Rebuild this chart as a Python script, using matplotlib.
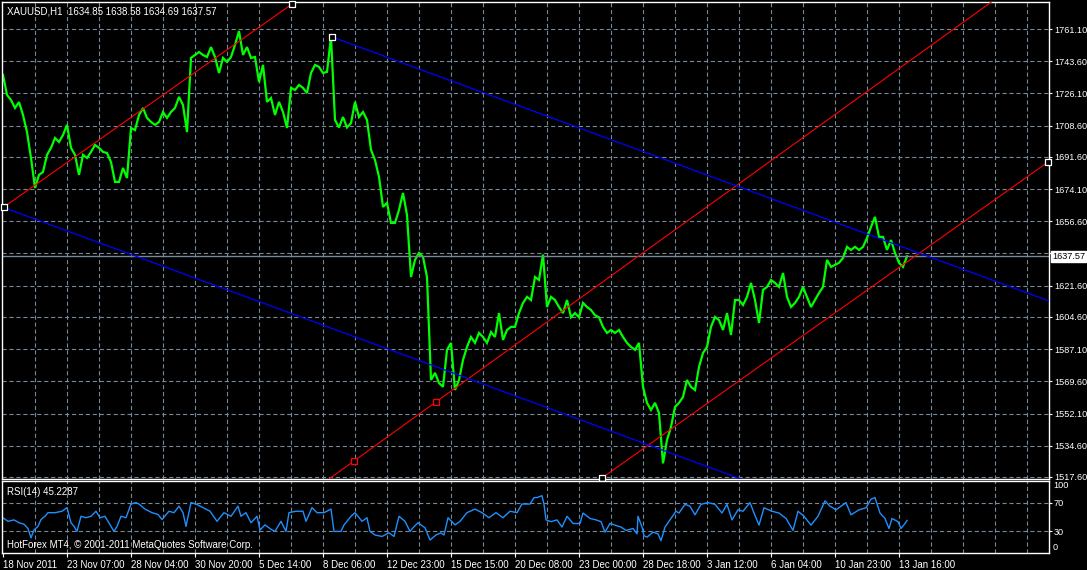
import numpy as np
import matplotlib
matplotlib.use("Agg")
import matplotlib.pyplot as plt
from matplotlib import font_manager

names = {f.name for f in font_manager.fontManager.ttflist}
FONT = "Liberation Sans Narrow" if "Liberation Sans Narrow" in names else "Liberation Sans"
plt.rcParams["font.family"] = [FONT, "DejaVu Sans"]
plt.rcParams["lines.scale_dashes"] = False

# ---- data --------------------------------------------------------------
# XAUUSD H1 closes, one value every 4 bars (18 Nov 2011 -> 13 Jan 2012)
BAR_STEP = 4
close = [
    1736.1, 1725.3, 1722.5, 1718.2, 1721.4, 1714.4, 1705.1, 1691.0, 1674.7, 1681.8,
    1683.4, 1692.7, 1696.5, 1701.9, 1699.7, 1703.5, 1709.0, 1696.5, 1692.7, 1681.8,
    1692.7, 1691.0, 1694.3, 1698.1, 1696.5, 1694.3, 1693.7, 1688.8, 1678.0, 1678.0,
    1685.6, 1680.1, 1707.3, 1706.2, 1714.4, 1718.2, 1712.8, 1710.6, 1709.0, 1710.6,
    1716.0, 1712.8, 1716.0, 1718.2, 1724.2, 1719.8, 1705.1, 1745.4, 1747.0, 1748.6,
    1747.0, 1745.9, 1751.3, 1745.9, 1737.2, 1745.4, 1743.2, 1745.9, 1752.4, 1760.0,
    1747.0, 1751.3, 1745.4, 1745.9, 1732.3, 1741.6, 1721.5, 1723.6, 1714.4, 1721.5,
    1716.0, 1707.3, 1729.1, 1728.0, 1730.7, 1729.1, 1726.3, 1737.2, 1741.6, 1740.5,
    1737.2, 1737.8, 1756.8, 1711.7, 1707.6, 1713.3, 1707.6, 1710.0, 1721.5, 1713.3,
    1716.0, 1711.7, 1695.4, 1689.9, 1680.7, 1664.4, 1666.6, 1655.7, 1655.7, 1662.8,
    1672.0, 1660.0, 1626.3, 1635.6, 1639.4, 1637.2, 1626.3, 1570.3, 1574.2, 1568.7,
    1566.6, 1586.7, 1590.5, 1564.9, 1570.3, 1581.2, 1588.3, 1593.7, 1590.5, 1595.9,
    1593.7, 1590.5, 1596.4, 1593.7, 1606.7, 1592.1, 1597.5, 1599.2, 1599.2, 1606.7,
    1612.2, 1615.5, 1613.8, 1626.3, 1624.7, 1638.5, 1610.0, 1615.5, 1613.8, 1610.0,
    1606.7, 1613.8, 1604.4, 1606.7, 1604.4, 1612.2, 1610.0, 1608.4, 1605.5, 1604.4,
    1599.2, 1595.9, 1597.5, 1595.9, 1597.5, 1593.7, 1590.5, 1588.3, 1586.7, 1590.5,
    1566.6, 1557.9, 1554.0, 1557.9, 1552.4, 1525.0, 1537.7, 1544.8, 1555.7, 1557.9,
    1561.1, 1570.3, 1566.6, 1564.9, 1577.4, 1585.0, 1588.3, 1599.2, 1604.6, 1602.9,
    1597.5, 1606.7, 1594.8, 1613.8, 1613.8, 1611.1, 1615.5, 1623.1, 1613.8, 1601.3,
    1619.3, 1620.9, 1624.7, 1623.1, 1620.9, 1628.5, 1615.5, 1610.0, 1612.2, 1615.5,
    1620.9, 1615.5, 1610.0, 1613.8, 1617.6, 1620.9, 1635.6, 1631.8, 1632.9, 1634.0,
    1636.7, 1642.7, 1641.0, 1642.7, 1641.0, 1642.7, 1647.5, 1653.5, 1659.0, 1648.1,
    1648.1, 1641.0, 1646.4, 1639.4, 1634.0, 1631.8, 1637.57,
]
last_price = 1637.57

# RSI(14): bar number and value
rsi_bars = [
    0, 5, 11, 16, 21, 25, 28, 31, 35, 38, 42, 45, 52, 59, 64, 68, 71, 74, 78, 83,
    88, 93, 97, 102, 107, 111, 114, 118, 123, 128, 133, 136, 142, 149, 155, 159, 166, 171, 176, 180,
    183, 188, 193, 200, 207, 214, 221, 228, 235, 238, 243, 248, 254, 257, 262, 269, 272, 278, 283, 286,
    293, 300, 303, 309, 314, 321, 328, 331, 338, 341, 348, 352, 359, 364, 367, 372, 379, 386, 391, 396,
    402, 407, 410, 415, 422, 427, 433, 438, 441, 445, 452, 457, 464, 472, 479, 486, 493, 500, 507, 514,
    519, 527, 531, 534, 539, 541, 543, 548, 554, 559, 564, 570, 577, 580, 587, 593, 598, 602, 607, 612,
    618, 623, 630, 634, 635, 639, 641, 644, 650, 655, 658, 662, 667, 673, 676, 682, 687, 692, 698, 705,
    712, 719, 724, 729, 735, 740, 747, 751, 756, 761, 769, 776, 783, 790, 795, 801, 808, 815, 822, 827,
    833, 838, 843, 848, 856, 863, 868, 872, 877, 882, 886, 889, 895, 898, 902, 904,
]
rsi_vals = [
    48.8, 44, 46, 42, 40, 34, 21, 32, 37, 46.5, 51, 56, 56, 58, 63, 42, 37, 30, 51, 49,
    51, 58, 49, 51, 39.4, 30, 37, 51, 49, 68, 70, 68, 61, 56, 53.5, 46.5, 58, 56, 65, 56,
    37, 70, 68, 63, 58, 44, 56, 51, 65, 51, 56, 42, 51, 32, 39, 32, 30, 44, 30, 56,
    58, 58, 44, 63, 56, 56, 61, 30, 30, 39, 51, 56, 44, 49, 30, 25, 23, 28, 23, 51,
    44, 30, 35, 42, 35, 18, 25, 28, 25, 49, 39, 44, 56, 61, 56, 49, 56, 49, 58, 56,
    68, 68, 77, 77, 79.6, 67.6, 46, 43.5, 46, 36, 51, 41, 41, 55.5, 48, 46, 43.5, 29, 41, 38.7,
    36, 31.4, 34, 26.6, 51, 36, 24, 22, 29, 26.6, 17, 36, 46, 58, 55.5, 67.6, 65, 53, 67.6, 70,
    67.6, 55.5, 67.6, 46, 60, 58, 70, 55.5, 38.7, 62.8, 58, 55.5, 48, 31.4, 58, 51, 38.7, 51, 72.4, 65,
    60, 65, 70, 53, 60, 62.8, 74.8, 77, 55.5, 48, 34, 48, 43.5, 34, 41, 45.2287,
]
rsi_last = 45.2287

# drawn objects: anchor points as (bar, price)
blue_base = [(2, 1663.8), (735, 1517.1)]      # lower blue line
blue_par = (329, 1756.8)                      # upper blue line starts here
red_lines = [
    [(1, 1664.4), (289, 1774.7)],
    [(351, 1526.3), (433, 1558.4)],
    [(599, 1517.1), (1045, 1688.8)],
]
white_marks = [(1, 1664.4), (289, 1774.7), (329, 1756.8), (599, 1517.1), (1045, 1688.8)]
red_marks = [(351, 1526.3), (433, 1558.4)]

price_ticks = [1761.10, 1743.60, 1726.10, 1708.60, 1691.60, 1674.10, 1656.60, 1639.10,
               1621.60, 1604.60, 1587.10, 1569.60, 1552.10, 1534.60, 1517.60]
date_labels = ["18 Nov 2011", "23 Nov 07:00", "28 Nov 04:00", "30 Nov 20:00", "5 Dec 14:00",
               "8 Dec 06:00", "12 Dec 23:00", "15 Dec 15:00", "20 Dec 08:00", "23 Dec 00:00",
               "28 Dec 18:00", "3 Jan 12:00", "6 Jan 04:00", "10 Jan 23:00", "13 Jan 16:00"]
LABEL_EVERY = 64
GRID_EVERY = 32

# ---- styling -------------------------------------------------------------
GRID_C = "#778899"
FS = 8 if FONT.endswith("Narrow") else 7
FS_Y = 8 if FONT.endswith("Narrow") else 6.6
W, H = 1087, 570
XLIM = (-1, 1046)
YLIM = (1516.5, 1775.8)


def box(x0, y0, x1, y1):
    return [x0 / W, 1 - y1 / H, (x1 - x0) / W, (y1 - y0) / H]


def style(ax):
    ax.set_facecolor("black")
    for s in ax.spines.values():
        s.set_color("white")
        s.set_linewidth(1.0)
    ax.yaxis.tick_right()
    ax.tick_params(axis="y", colors="white", length=2, width=0.8, pad=1.6, labelsize=FS_Y)
    ax.set_xlim(*XLIM)
    for gx in np.arange(GRID_EVERY, XLIM[1], GRID_EVERY):
        ax.axvline(gx, color=GRID_C, lw=0.8, dashes=(3, 2), zorder=1)


fig = plt.figure(figsize=(W / 100, H / 100), dpi=100, facecolor="black")
ax = fig.add_axes(box(2, 2, 1049, 479))
ax2 = fig.add_axes(box(2, 481, 1049, 553))
style(ax)
style(ax2)

# main price panel
ax.set_ylim(*YLIM)
ax.set_yticks(price_ticks)
ax.set_yticklabels([f"{v:.2f}" if abs(v - last_price) > 5 else "" for v in price_ticks])
ax.set_xticks([])
for v in price_ticks:
    ax.axhline(v, color=GRID_C, lw=0.8, dashes=(3, 2), zorder=1)

bars = np.arange(len(close)) * BAR_STEP
ax.plot(bars, close, color="#00ff00", lw=1.6, zorder=2, solid_joinstyle="miter")

ax.axhline(last_price, color=GRID_C, lw=1.0, zorder=2)
ax.text(1.0 + 3 / 1047, last_price, f"{last_price:.2f}", transform=ax.get_yaxis_transform(),
        ha="left", va="center", fontsize=FS_Y, color="black", clip_on=False, zorder=6,
        bbox=dict(boxstyle="square,pad=0.12", fc="white", ec="white"))

for p1, p2 in red_lines:
    ax.axline(p1, p2, color="#ff0000", lw=0.8, zorder=3)
ax.axline(blue_base[0], blue_base[1], color="#0000ff", lw=0.9, zorder=3)
slope = (blue_base[1][1] - blue_base[0][1]) / (blue_base[1][0] - blue_base[0][0])
ax.plot([blue_par[0], XLIM[1]], [blue_par[1], blue_par[1] + slope * (XLIM[1] - blue_par[0])],
        color="#0000ff", lw=0.9, zorder=3)

ax.scatter(*zip(*white_marks), marker="s", s=14, facecolor="black", edgecolor="white",
           linewidths=0.9, zorder=5, clip_on=False)
ax.scatter(*zip(*red_marks), marker="s", s=14, facecolor="black", edgecolor="#ff0000",
           linewidths=0.9, zorder=5, clip_on=False)

fig.text(7 / W, 1 - 11 / H, "XAUUSD,H1  1634.85 1638.58 1634.69 1637.57",
         color="white", fontsize=FS, va="center", ha="left")

# RSI panel
ax2.set_ylim(0, 100)
ax2.set_yticks([30, 70])
ax2.set_yticklabels(["30", "70"])
for v in (30, 70):
    ax2.axhline(v, color=GRID_C, lw=0.8, dashes=(3, 2), zorder=1)
ax2.plot(rsi_bars, rsi_vals, color="#1e90ff", lw=1.0, zorder=2)
ax2.text(1.0 + 4 / 1047, 1.0, "100", transform=ax2.transAxes, color="white",
         fontsize=FS_Y, ha="left", va="top")
ax2.text(1.0 + 4 / 1047, 0.02, "0", transform=ax2.transAxes, color="white",
         fontsize=FS_Y, ha="left", va="bottom")

ax2.set_xticks(np.arange(len(date_labels)) * LABEL_EVERY)
ax2.set_xticklabels(date_labels)
ax2.tick_params(axis="x", colors="white", length=3, width=0.8, pad=2, labelsize=FS)
for lbl in ax2.get_xticklabels():
    lbl.set_ha("left")

fig.text(7 / W, 1 - 492 / H, f"RSI(14) {rsi_last:.4f}", color="white", fontsize=FS,
         va="center", ha="left")
fig.text(7 / W, 1 - 545 / H, "HotForex MT4, \u00a9 2001-2011 MetaQuotes Software Corp.",
         color="white", fontsize=FS, va="center", ha="left")

fig.savefig("out.png", dpi=100, facecolor="black")
